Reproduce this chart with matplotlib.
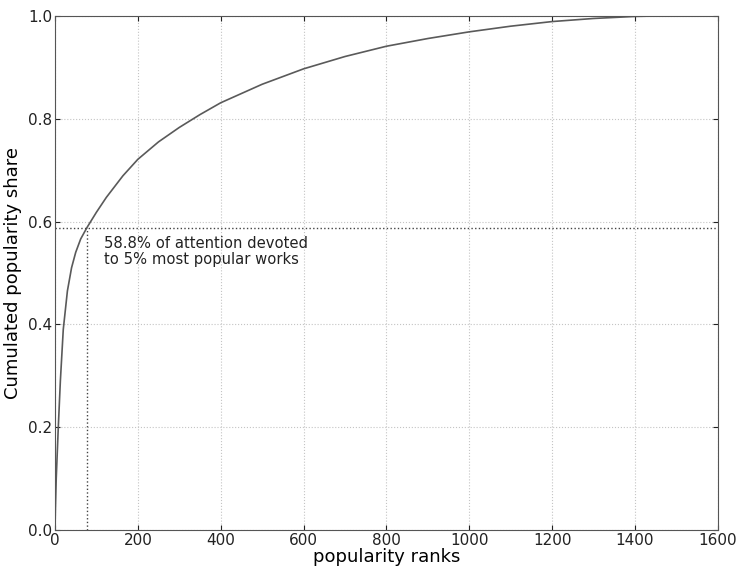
import matplotlib
matplotlib.use("Agg")
import matplotlib.pyplot as plt

# cumulative share of attention by popularity rank
ranks = [0, 1, 3, 8, 13, 20, 30, 40, 50, 62, 77, 100, 124, 164, 200, 250,
         300, 350, 400, 500, 600, 700, 800, 900, 1000, 1100, 1200, 1300,
         1400, 1460, 1540]
share = [0.0, 0.04, 0.10, 0.20, 0.29, 0.39, 0.465, 0.51, 0.54, 0.566, 0.588,
         0.618, 0.647, 0.689, 0.721, 0.755, 0.783, 0.808, 0.831, 0.867, 0.897,
         0.921, 0.941, 0.956, 0.969, 0.980, 0.989, 0.995, 0.999, 1.0, 1.0]

top_rank = 77
top_share = 0.588

fig = plt.figure(figsize=(7.39, 5.68), dpi=100)
ax = fig.add_axes([0.0744, 0.067, 0.897, 0.905])

ax.plot(ranks, share, color="#5a5a5a", lw=1.2)
ax.axhline(top_share, color="#444444", ls=":", lw=1.0)
ax.plot([top_rank, top_rank], [0, top_share], color="#444444", ls=":", lw=1.0)
ax.text(118, 0.572, "58.8% of attention devoted\nto 5% most popular works",
        fontsize=10.6, va="top", ha="left", color="#222222", linespacing=1.1)

ax.set_xlim(0, 1600)
ax.set_ylim(0, 1.0)
ax.set_xticks(range(0, 1601, 200))
ax.set_yticks([0.0, 0.2, 0.4, 0.6, 0.8, 1.0])
ax.set_yticklabels(["0.0", "0.2", "0.4", "0.6", "0.8", "1.0"])
ax.grid(True, color="#c4c4c4", ls=":", lw=0.8)
ax.tick_params(direction="in", top=True, right=True, labelsize=11,
               colors="#222222", pad=2)
for s in ax.spines.values():
    s.set_color("#555555")

ax.set_xlabel("popularity ranks", fontsize=13, labelpad=0)
ax.set_ylabel("Cumulated popularity share", fontsize=13, labelpad=4)

fig.savefig("out.png", dpi=100, facecolor="white")
